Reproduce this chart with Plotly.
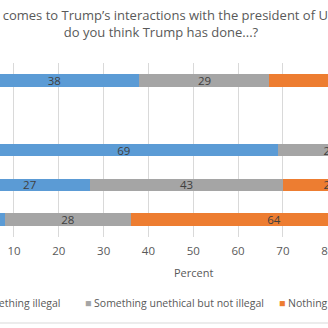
import plotly.graph_objects as go

# ---- data ----
categories = ["Total", " ", "Democrats", "Independents", "Republicans"]
something_illegal = [38, None, 69, 27, 8]
unethical_not_illegal = [29, None, 23, 43, 28]
nothing_wrong = [33, None, 8, 21, 64]
series_names = ["Something illegal", "Something unethical but not illegal", "Nothing wrong at all"]
legend_labels = ["Something illegal", "Something unethical but not illegal", "Nothing"]
colors = ["#5B9BD5", "#A5A5A5", "#ED7D31"]
x_ticks = [0, 10, 20, 30, 40, 50, 60, 70, 80, 90, 100]
title_text = "When it comes to Trump\u2019s interactions with the president of Ukraine,<br>do you think Trump has done...?"
x_title = "Percent"

W, H = 328, 328
T, B = 63, 91
PH = H - T - B


def py(p):
    return (H - B - p) / PH


def pxx(p):
    return p / W


FONT = "Open Sans"
fig = go.Figure()
for name, vals, col in zip(series_names, [something_illegal, unethical_not_illegal, nothing_wrong], colors):
    fig.add_trace(go.Bar(
        y=categories, x=vals, name=name, orientation="h",
        marker=dict(color=col, line=dict(width=0)),
        text=[("" if v is None else str(v)) for v in vals],
        textposition="inside", insidetextanchor="middle", textangle=0,
        constraintext="none",
        textfont=dict(family=FONT, size=11.5, color="#404040"),
        showlegend=False,
    ))

fig.update_layout(
    width=W, height=H,
    margin=dict(l=0, r=0, t=T, b=B, autoexpand=False),
    barmode="stack", bargap=0.64,
    uniformtext=dict(minsize=11.5, mode="show"),
    plot_bgcolor="white", paper_bgcolor="white",
    font=dict(family=FONT, color="#595959"),
    title=dict(text=title_text, x=161 / W, xanchor="center", xref="paper",
               y=1 - 20 / H, yanchor="middle", yref="container",
               font=dict(family=FONT, size=13, color="#595959")),
    xaxis=dict(range=[6.88, 80.06], tickvals=x_ticks, showgrid=True, gridcolor="#D9D9D9",
               gridwidth=1, zeroline=False, showline=False, ticks="",
               ticklabelstandoff=5, ticklabeloverflow="allow",
               tickfont=dict(family=FONT, size=11.5, color="#595959"), automargin=False),
    yaxis=dict(autorange="reversed", showgrid=False, zeroline=False, showline=False,
               showticklabels=False, automargin=False),
)

# axis title centred on the full 0-100 plot width
fig.add_annotation(text=x_title, x=50, xref="x", y=py(272), yref="paper", yanchor="middle",
                   showarrow=False, font=dict(family=FONT, size=11, color="#595959"))

# legend row
leg_pos = [(63, "right"), (83, "left"), (277, "left")]
for lab, col, (xp, anc) in zip(legend_labels, colors, leg_pos):
    fig.add_annotation(
        text=f"<span style='color:{col}'>\u25A0</span> {lab}",
        x=pxx(xp), xref="paper", xanchor=anc, y=py(303), yref="paper", yanchor="middle",
        showarrow=False, font=dict(family=FONT, size=10.5, color="#595959"))

# chart border bottom line
fig.add_shape(type="line", xref="paper", yref="paper", x0=-0.2, x1=1.2,
              y0=py(323), y1=py(323), line=dict(color="#D9D9D9", width=1))

fig.write_html("out.html")
